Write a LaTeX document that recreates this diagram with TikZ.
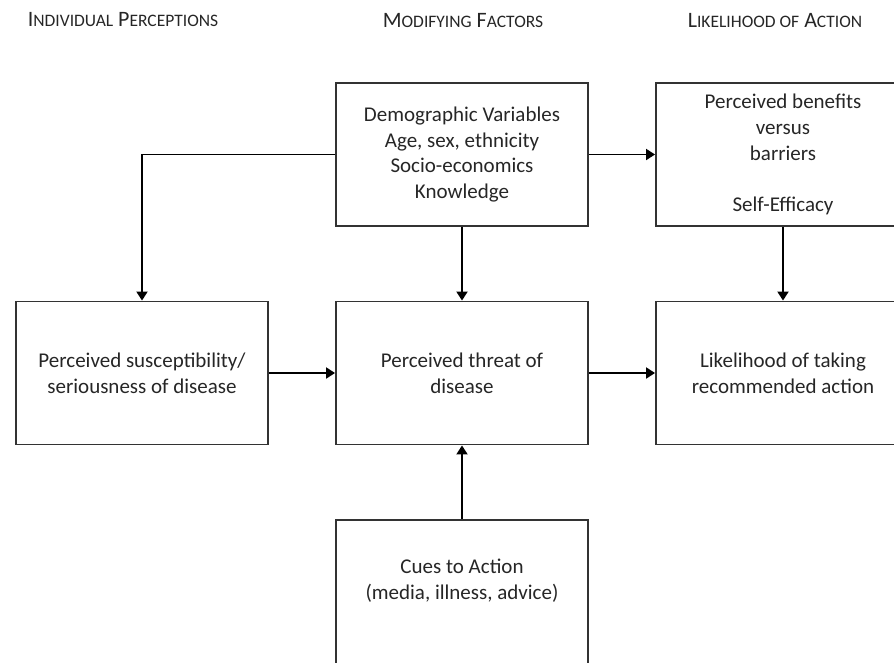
\documentclass[tikz,border=0pt]{standalone}
\usepackage{fontspec}
\setmainfont{Carlito}
\usetikzlibrary{arrows.meta}
\newcommand{\fsc}[2]{#1{\fontsize{17.5}{17.5}\selectfont #2}}
\begin{document}
\begin{tikzpicture}[x=1pt,y=-1pt,
  box/.style={draw=black!80, line width=1.9pt, minimum width=252pt, minimum height=143pt, inner sep=0pt, align=center, text=black!85, font=\fontsize{21}{25.8}\selectfont},
  boxtext/.style={inner sep=0pt, align=center, text=black!85, font=\fontsize{21}{25.8}\selectfont},
  conn/.style={line width=1.9pt, -{Triangle[length=9pt,width=11pt]}},
  head/.style={text=black!85, font=\fontsize{22}{22}\selectfont, inner sep=0pt}]
\useasboundingbox (0,0) rectangle (894,662);
\clip (0,0) rectangle (894,662);
% headers
\node[head] (h1) at (123,20) {\fsc{I}{NDIVIDUAL} \fsc{P}{ERCEPTIONS}};
\node[head] (h2) at (463,20) {\fsc{M}{ODIFYING} \fsc{F}{ACTORS}};
\node[head] (h3) at (775,20) {\fsc{L}{IKELIHOOD OF} \fsc{A}{CTION}};
% boxes
\node[box] (demo) at (462,154.5) {Demographic Variables\\Age, sex, ethnicity\\Socio-economics\\Knowledge};
\node[box, minimum width=254pt] (benef) at (783,154.5) {Perceived benefits\\versus\\barriers\\[25.8pt]Self-Efficacy};
\node[box] (susc) at (142,373) {Perceived susceptibility/\\seriousness of disease};
\node[box] (threat) at (462,373) {Perceived threat of\\disease};
\node[box, minimum width=254pt] (likely) at (783,373) {Likelihood of taking\\recommended action};
\node[box, minimum height=180pt] (cues) at (462,610) {};
\node[boxtext] (cuestext) at (462,581) {Cues to Action\\(media, illness, advice)};
% connectors
\draw[conn] (demo.west) -| (susc.north);
\draw[conn] (demo.east) -- (benef.west);
\draw[conn] (demo.south) -- (threat.north);
\draw[conn] (benef.south) -- (likely.north);
\draw[conn] (susc.east) -- (threat.west);
\draw[conn] (threat.east) -- (likely.west);
\draw[conn] (cues.north) -- (threat.south);
\end{tikzpicture}
\end{document}
